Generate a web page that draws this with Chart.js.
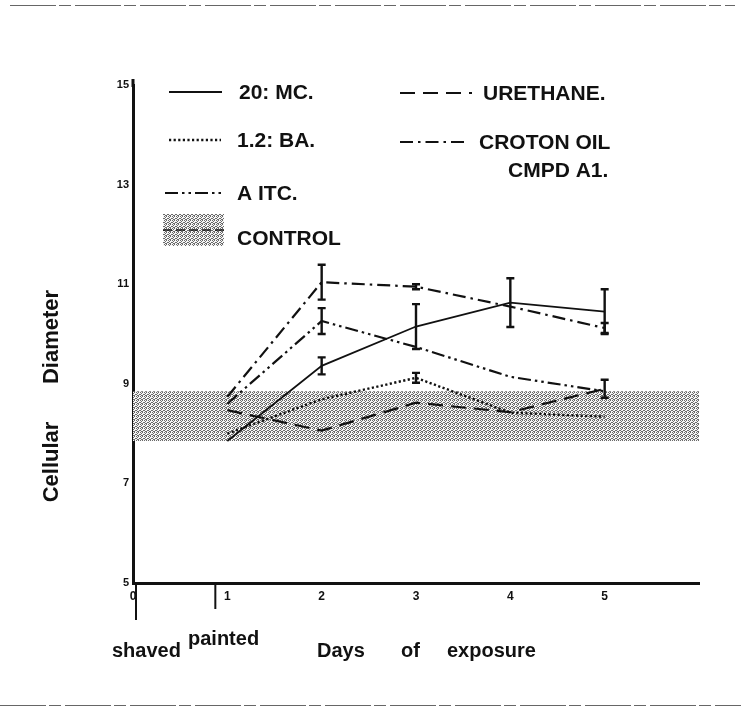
<!DOCTYPE html>
<html>
<head>
<meta charset="utf-8">
<title>Cellular Diameter</title>
<script src="https://cdn.jsdelivr.net/npm/chart.js@4.4.0/dist/chart.umd.min.js"></script>
<style>
  html, body { margin: 0; padding: 0; background: #fff; }
  #wrap { position: relative; width: 741px; height: 710px; }
</style>
</head>
<body>
<div id="wrap"><canvas id="diamChart" width="741" height="710"></canvas></div>
<script>
// days of exposure
const days = [1, 2, 3, 4, 5];

// mean cellular diameter per day
const mc20 = [7.85, 9.36, 10.15, 10.63, 10.45];
const ba12 = [8.0, 8.69, 9.12, 8.42, 8.34];
const aitc = [8.6, 10.26, 9.74, 9.14, 8.85];
const urethane = [8.47, 8.06, 8.62, 8.43, 8.9];
const croton = [8.74, 11.04, 10.95, 10.55, 10.12];

// half length of the error bars (0 = no bar)
const mc20Err = [0, 0.17, 0.45, 0.49, 0.45];
const ba12Err = [0, 0, 0.1, 0, 0];
const aitcErr = [0, 0.26, 0, 0, 0];
const urethaneErr = [0, 0, 0, 0, 0.18];
const crotonErr = [0, 0.35, 0.05, 0, 0.1];

// control range (shaded band)
const controlDays = [0, 6];
const controlLow = [7.85, 7.85];
const controlHigh = [8.85, 8.85];

// axis ticks
const yTicks = [5, 7, 9, 11, 13, 15];
const xTicks = [0, 1, 2, 3, 4, 5];

const FONT = '"Liberation Sans", Arial, sans-serif';
const INK = '#111';

const lineStyles = {
    mc: { dash: [], width: 1.8 },
    ba: { dash: [2.2, 2.4], width: 2.4 },
    aitc: { dash: [13, 4, 2.5, 4, 2.5, 4], width: 2.2 },
    ure: { dash: [15, 8], width: 2.2 },
    croton: { dash: [13, 5, 2.5, 5], width: 2.2 }
};

const canvas = document.getElementById('diamChart');
const mainCtx = canvas.getContext('2d');

// stippled halftone used for the control band
function makeStipple() {
    const c = document.createElement('canvas');
    c.width = 4; c.height = 4;
    const g = c.getContext('2d');
    g.fillStyle = '#f6f6f6';
    g.fillRect(0, 0, 4, 4);
    g.fillStyle = '#6a6a6a';
    [[0, 0], [2, 0], [1, 1], [3, 2], [0, 2], [2, 3], [1, 3]].forEach(d => g.fillRect(d[0], d[1], 1, 1));
    return mainCtx.createPattern(c, 'repeat');
}
const stipple = makeStipple();

const toPts = (xs, ys) => xs.map((x, i) => ({ x: x, y: ys[i] }));

function series(label, key, values, errors) {
    const s = lineStyles[key];
    return {
        label: label,
        data: toPts(days, values),
        errors: errors,
        borderColor: INK,
        borderWidth: s.width,
        borderDash: s.dash,
        borderCapStyle: 'butt',
        pointRadius: 0,
        tension: 0,
        fill: false,
        order: 1
    };
}

// vertical error bars with caps
const errorBarsPlugin = {
    id: 'errorBars',
    afterDatasetsDraw(chart) {
        const ctx = chart.ctx;
        const xs = chart.scales.x, ys = chart.scales.y;
        chart.data.datasets.forEach(ds => {
            if (!ds.errors) return;
            ctx.save();
            ctx.strokeStyle = INK;
            ctx.lineWidth = 2.4;
            ds.data.forEach((p, i) => {
                const e = ds.errors[i];
                if (!e) return;
                const px = xs.getPixelForValue(p.x);
                const top = ys.getPixelForValue(p.y + e);
                const bot = ys.getPixelForValue(p.y - e);
                ctx.beginPath();
                ctx.moveTo(px, top); ctx.lineTo(px, bot);
                ctx.moveTo(px - 4, top); ctx.lineTo(px + 4, top);
                ctx.moveTo(px - 4, bot); ctx.lineTo(px + 4, bot);
                ctx.stroke();
            });
            ctx.restore();
        });
    }
};

// key in the upper part of the plot
const legendItems = [
    { text: ['20: MC.'], key: 'mc', x: 169, y: 92, len: 53, gap: 17 },
    { text: ['1.2: BA.'], key: 'ba', x: 169, y: 140, len: 52, gap: 16 },
    { text: ['A ITC.'], key: 'aitc', x: 165, y: 193, len: 57, gap: 15 },
    { text: ['URETHANE.'], key: 'ure', x: 400, y: 93, len: 72, gap: 11 },
    { text: ['CROTON OIL', 'CMPD A1.'], key: 'croton', x: 400, y: 142, len: 68, gap: 11 }
];

const keyPlugin = {
    id: 'keyBox',
    afterDraw(chart) {
        const ctx = chart.ctx;
        ctx.save();
        ctx.font = 'bold 21px ' + FONT;
        ctx.fillStyle = INK;
        ctx.textBaseline = 'middle';
        legendItems.forEach(item => {
            const s = lineStyles[item.key];
            ctx.strokeStyle = INK;
            ctx.lineWidth = s.width;
            ctx.setLineDash(s.dash);
            ctx.beginPath();
            ctx.moveTo(item.x, item.y);
            ctx.lineTo(item.x + item.len, item.y);
            ctx.stroke();
            ctx.setLineDash([]);
            const tx = item.x + item.len + item.gap;
            ctx.fillText(item.text[0], tx, item.y + 1);
            if (item.text[1]) ctx.fillText(item.text[1], tx + 29, item.y + 29);
        });
        // control swatch
        ctx.fillStyle = stipple;
        ctx.fillRect(163, 214, 61, 32);
        ctx.strokeStyle = INK;
        ctx.lineWidth = 1.6;
        ctx.setLineDash([9, 4]);
        ctx.beginPath();
        ctx.moveTo(163, 230);
        ctx.lineTo(224, 230);
        ctx.stroke();
        ctx.setLineDash([]);
        ctx.fillStyle = INK;
        ctx.fillText('CONTROL', 237, 239);
        ctx.restore();
    }
};

// axis titles, stage markers and page rules
const stageMarks = [{ day: 0, shift: 3, len: 37 }, { day: 1, shift: -12, len: 26 }];

const annotatePlugin = {
    id: 'annotate',
    afterDraw(chart) {
        const ctx = chart.ctx;
        const xs = chart.scales.x;
        const area = chart.chartArea;
        ctx.save();
        ctx.strokeStyle = INK;
        ctx.lineWidth = 2;
        stageMarks.forEach(m => {
            const px = xs.getPixelForValue(m.day) + m.shift;
            ctx.beginPath();
            ctx.moveTo(px, area.bottom);
            ctx.lineTo(px, area.bottom + m.len);
            ctx.stroke();
        });
        // axis line runs a little past the top tick
        ctx.lineWidth = 3;
        ctx.beginPath();
        ctx.moveTo(area.left, area.top + 2);
        ctx.lineTo(area.left, area.top - 6);
        ctx.stroke();

        ctx.fillStyle = INK;
        ctx.font = 'bold 20px ' + FONT;
        ctx.textBaseline = 'alphabetic';
        ctx.textAlign = 'left';
        ctx.fillText('shaved', 112, 657);
        ctx.fillText('painted', 188, 645);
        ctx.fillText('Days', 317, 657);
        ctx.fillText('of', 401, 657);
        ctx.fillText('exposure', 447, 657);

        ctx.font = 'bold 22px ' + FONT;
        ctx.textAlign = 'center';
        ctx.textBaseline = 'middle';
        ctx.translate(52, 0);
        ctx.rotate(-Math.PI / 2);
        ctx.fillText('Cellular', -462, 0);
        ctx.fillText('Diameter', -337, 0);
        ctx.restore();

        // rules along the top and bottom of the page
        ctx.save();
        ctx.strokeStyle = '#666';
        ctx.lineWidth = 1;
        ctx.setLineDash([46, 3, 12, 4]);
        ctx.beginPath();
        ctx.moveTo(10, 5.5); ctx.lineTo(735, 5.5);
        ctx.moveTo(0, 705.5); ctx.lineTo(741, 705.5);
        ctx.stroke();
        ctx.restore();
    }
};

new Chart(canvas, {
    type: 'line',
    data: {
        datasets: [
            { label: 'control low', data: toPts(controlDays, controlLow), borderColor: 'rgba(0,0,0,0)', borderWidth: 0, pointRadius: 0, fill: false, order: 10 },
            { label: 'CONTROL', data: toPts(controlDays, controlHigh), borderColor: 'rgba(0,0,0,0)', borderWidth: 0, pointRadius: 0, fill: '-1', backgroundColor: stipple, order: 10 },
            series('20: MC.', 'mc', mc20, mc20Err),
            series('1.2: BA.', 'ba', ba12, ba12Err),
            series('AITC.', 'aitc', aitc, aitcErr),
            series('URETHANE.', 'ure', urethane, urethaneErr),
            series('CROTON OIL CMPD A1.', 'croton', croton, crotonErr)
        ]
    },
    options: {
        responsive: false,
        animation: false,
        layout: { padding: { left: 0, top: 85, right: 42, bottom: 0 } },
        plugins: {
            legend: { display: false },
            tooltip: { enabled: false },
            filler: { propagate: false }
        },
        scales: {
            x: {
                type: 'linear',
                min: 0, max: 6,
                afterBuildTicks: s => { s.ticks = xTicks.map(v => ({ value: v })); },
                afterFit: s => { s.height = 127; },
                grid: { display: false, drawTicks: false },
                border: { display: true, width: 3, color: INK },
                ticks: { color: INK, padding: 6, font: { family: FONT, size: 12, weight: 'bold' } }
            },
            y: {
                min: 5, max: 15,
                afterBuildTicks: s => { s.ticks = yTicks.map(v => ({ value: v })); },
                afterFit: s => { s.width = 133; },
                grid: { display: false, drawTicks: false },
                border: { display: true, width: 3, color: INK },
                ticks: { color: INK, padding: 4, font: { family: FONT, size: 11, weight: 'bold' } }
            }
        }
    },
    plugins: [errorBarsPlugin, keyPlugin, annotatePlugin]
});
</script>
</body>
</html>
